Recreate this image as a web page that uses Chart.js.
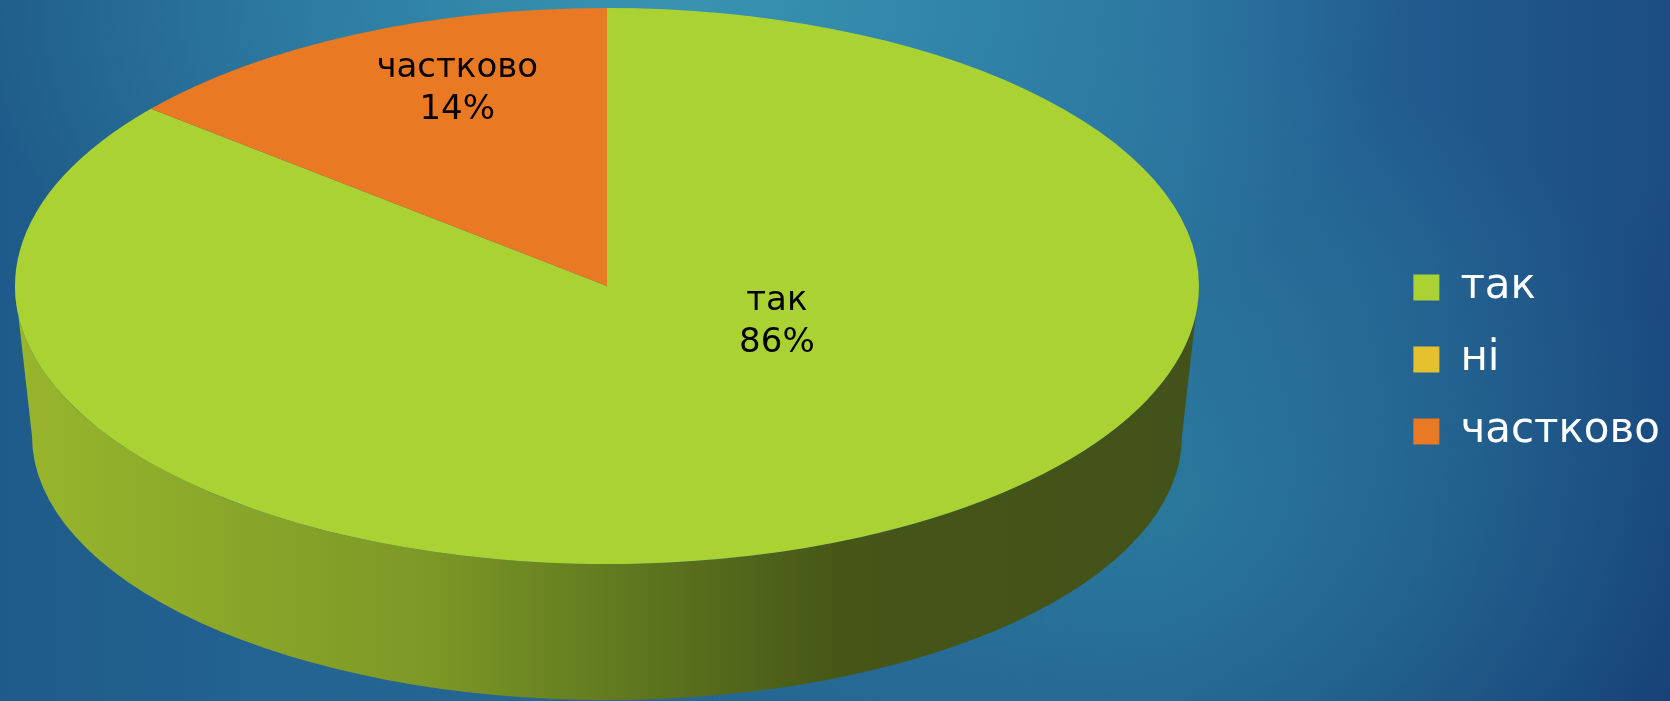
<!DOCTYPE html>
<html>
<head>
<meta charset="utf-8">
<script src="https://cdn.jsdelivr.net/npm/chart.js@4.4.1/dist/chart.umd.min.js"></script>
<style>
  html, body { margin: 0; padding: 0; }
  body {
    width: 1670px; height: 701px; overflow: hidden;
    background:
      radial-gradient(ellipse 720px 420px at 680px 0px, rgba(56,150,178,0.95), rgba(56,150,178,0) 100%),
      radial-gradient(ellipse 560px 460px at 1150px 500px, rgba(44,126,158,0.8), rgba(44,126,158,0) 100%),
      linear-gradient(160deg, rgba(0,0,0,0) 60%, rgba(18,58,112,0.55) 100%),
      linear-gradient(90deg, #1f5b8a 0%, #286f9b 40%, #26699a 70%, #1c4c82 100%);
  }
  #wrap { position: absolute; left: 0; top: 0; width: 1670px; height: 701px; }
</style>
</head>
<body>
<div id="wrap"><canvas id="ChartPie"></canvas></div>
<script>
// ---------------- data ------------------------
const categorias = ['так', 'ні', 'частково'];
const valores = [86, 0, 14];
const cores = ['#abd233', '#e6c12e', '#ea7923'];

// ---------------- 3D look ------------------------
const topo = { cx: 607, cy: 286, rx: 592, ry: 278 };
const base = { cx: 607, cy: 436, rx: 575, ry: 264 };

const pie3d = {
    id: 'pie3d',
    beforeDatasetsDraw(chart, args, opts) {
        const ctx = chart.ctx;
        const arcs = chart.getDatasetMeta(0).data;
        const R = arcs[0].outerRadius, cx = arcs[0].x, cy = arcs[0].y;

        // lateral (front half only)
        arcs.forEach((arc, i) => {
            const s = Math.max(arc.startAngle, 0);
            const e = Math.min(arc.endAngle, Math.PI);
            if (e <= s) return;
            const g = ctx.createLinearGradient(topo.cx - topo.rx, 0, topo.cx + topo.rx, 0);
            opts.side[i].forEach(st => g.addColorStop(st[0], st[1]));
            ctx.save();
            ctx.beginPath();
            ctx.ellipse(topo.cx, topo.cy, topo.rx, topo.ry, 0, s, e);
            ctx.ellipse(base.cx, base.cy, base.rx, base.ry, 0, e, s, true);
            ctx.closePath();
            ctx.fillStyle = g;
            ctx.fill();
            ctx.restore();
        });

        // top face: squash the circle into the ellipse
        ctx.save();
        ctx.translate(topo.cx, topo.cy);
        ctx.scale(topo.rx / R, topo.ry / R);
        ctx.translate(-cx, -cy);
    },
    afterDatasetsDraw(chart, args, opts) {
        const ctx = chart.ctx;
        ctx.restore();

        const data = chart.data.datasets[0].data;
        const total = data.reduce((a, b) => a + b, 0);
        ctx.save();
        ctx.fillStyle = '#000';
        ctx.font = opts.font;
        ctx.textAlign = 'center';
        ctx.textBaseline = 'middle';
        data.forEach((v, i) => {
            if (!v) return;
            const p = opts.labelAt[i];
            const x = topo.cx + p[0] * topo.rx;
            const y = topo.cy + p[1] * topo.ry;
            ctx.fillText(chart.data.labels[i], x, y - opts.lineGap / 2);
            ctx.fillText(Math.round(v / total * 100) + '%', x, y + opts.lineGap / 2);
        });
        ctx.restore();
    }
};

// ---------------- chart ------------------------
const graficoPizza = document.getElementById('ChartPie');

new Chart(graficoPizza, {
    type: 'pie',
    data: {
        labels: categorias,
        datasets: [{
            data: valores,
            backgroundColor: cores,
            borderWidth: 0,
            hoverOffset: 0
        }]
    },
    options: {
        responsive: true,
        maintainAspectRatio: false,
        animation: false,
        events: [],
        layout: {
            padding: { top: 18, right: 0, bottom: 0, left: 0 }
        },
        plugins: {
            legend: {
                position: 'right',
                align: 'center',
                labels: {
                    color: '#ffffff',
                    boxWidth: 26,
                    boxHeight: 26,
                    padding: 30,
                    font: { family: 'DejaVu Sans', size: 42 }
                }
            },
            tooltip: { enabled: false },
            pie3d: {
                font: '34px "DejaVu Sans"',
                lineGap: 42,
                labelAt: [[0.287, 0.13], [0, 0], [-0.253, -0.709]],
                side: [
                    [[0, '#98b62c'], [0.35, '#7d9826'], [0.49, '#647d20'], [0.7, '#455617'], [1, '#42521a']],
                    [[0, '#c9a82a'], [1, '#6b5a16']],
                    [[0, '#c8661d'], [1, '#6e360f']]
                ]
            }
        }
    },
    plugins: [pie3d]
});
</script>
</body>
</html>
